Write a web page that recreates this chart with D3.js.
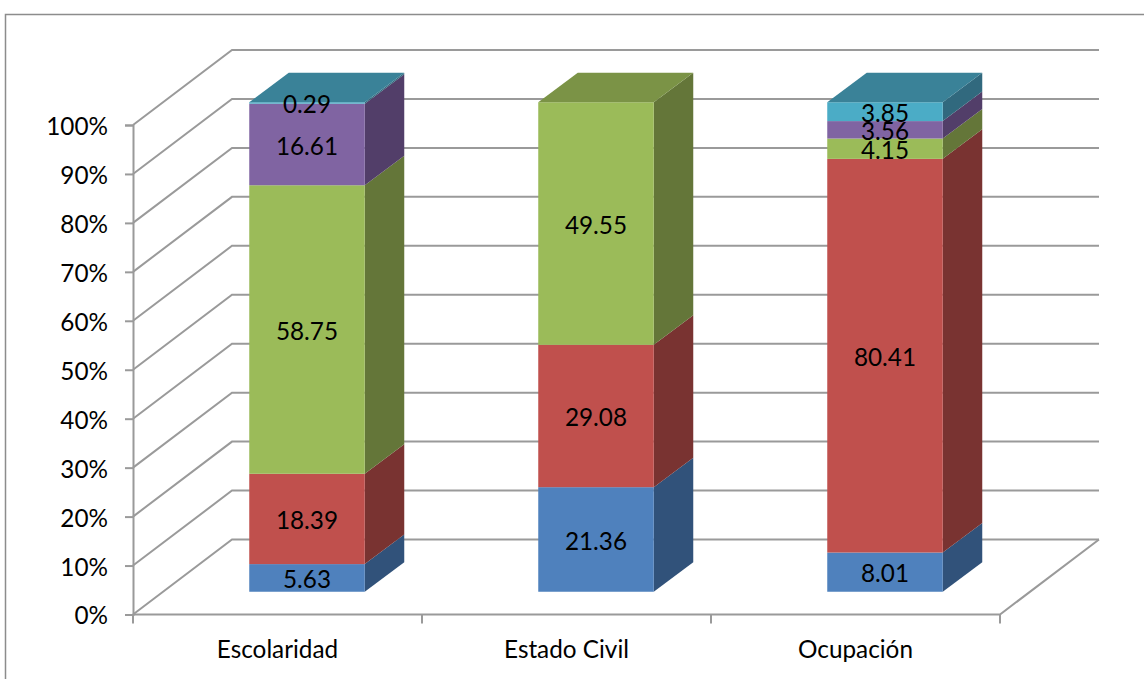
<!DOCTYPE html>
<html>
<head>
<meta charset="utf-8">
<script src="https://cdn.jsdelivr.net/npm/d3@7"></script>
<style>
html,body{margin:0;padding:0;background:#fff}
svg{display:block}
text{font-family:Lato,"Open Sans",sans-serif;fill:#000}
</style>
</head>
<body>
<svg id="chart" width="1144" height="679"></svg>
<script>
// Composition of the sample by profile variable (stacked 100%)
const categories = ["Escolaridad", "Estado Civil", "Ocupación"];
const seriesKeys = ["s1", "s2", "s3", "s4", "s5"];
const s1 = [5.63, 21.36, 8.01];
const s2 = [18.39, 29.08, 80.41];
const s3 = [58.75, 49.55, 4.15];
const s4 = [16.61, 0, 3.56];
const s5 = [0.29, 0, 3.85];
const seriesValues = [s1, s2, s3, s4, s5];
const tickValues = [0, 10, 20, 30, 40, 50, 60, 70, 80, 90, 100];

const frontColors = ["#4f81bd", "#c0504d", "#9bbb59", "#8064a2", "#4bacc6"];
const sideColors  = ["#31527a", "#793331", "#647639", "#523e69", "#31697e"];
const topColors   = ["#3f678f", "#994040", "#7b9346", "#665083", "#3a8298"];

const svg = d3.select("#chart");
const gridColor = "#9a9a9a";
const fontSize = 24.3;

// Frame around the chart area
svg.append("rect").attr("x", 5.5).attr("y", 14.5).attr("width", 1160).attr("height", 700)
  .attr("fill", "none").attr("stroke", "#8c8c8c").attr("stroke-width", 1.5);

// Oblique projection: wall depth and bar depth
const wallDx = 99, wallDy = -75;
const barDx = 39.5, barDy = -29.5;
const insetDx = (wallDx - barDx) / 2, insetDy = (wallDy - barDy) / 2;

const y = d3.scaleLinear().domain([0, 100]).range([614.5, 125]);
const x = d3.scaleBand().domain(categories).range([133, 1000]).paddingInner(0).paddingOuter(0);
const barWidth = 115.5;
const barLeft = c => x(c) + (x.bandwidth() - barWidth) / 2 + insetDx - 0.25;

// Walls: horizontal lines on the back, diagonals on the side
const grid = svg.append("g").attr("fill", "none").attr("stroke", gridColor).attr("stroke-width", 2);
grid.selectAll("path.g").data(tickValues).join("path").attr("class", "g")
  .attr("d", t => {
    const p = d3.path();
    p.moveTo(x.range()[0], y(t));
    p.lineTo(x.range()[0] + wallDx, y(t) + wallDy);
    p.lineTo(x.range()[1] + wallDx, y(t) + wallDy);
    return p.toString();
  });

// Floor edge to the right
grid.append("path").attr("d", () => {
  const p = d3.path();
  p.moveTo(x.range()[0], y(0));
  p.lineTo(x.range()[1], y(0));
  p.lineTo(x.range()[1] + wallDx, y(0) + wallDy);
  return p.toString();
});

// Axes
const yAxis = d3.axisLeft(y).tickValues(tickValues).tickFormat(d => d + "%").tickSize(8).tickPadding(17);
const gy = svg.append("g").attr("transform", `translate(${x.range()[0]},0)`).call(yAxis);
gy.selectAll("path.domain").attr("stroke", gridColor).attr("stroke-width", 2);
gy.selectAll("line").attr("stroke", gridColor).attr("stroke-width", 2);
gy.selectAll("text").attr("font-size", fontSize).attr("font-family", "Lato").attr("dy", "0.39em");

const xAxis = d3.axisBottom(x).tickSize(0).tickPadding(26);
const gx = svg.append("g").attr("transform", `translate(0,${y(0)})`).call(xAxis);
gx.select("path.domain").remove();
gx.selectAll("text").attr("font-size", fontSize).attr("font-family", "Lato");

// Category separators below the floor
svg.append("g").selectAll("line")
  .data([...categories.map(c => x(c)), x.range()[1]]).join("line")
  .attr("x1", d => d).attr("x2", d => d)
  .attr("y1", y(0)).attr("y2", y(0) + 9)
  .attr("stroke", gridColor).attr("stroke-width", 2);

// Stacked bars, normalised to 100%
const rows = categories.map((c, i) => {
  const r = { category: c };
  seriesKeys.forEach((k, j) => { r[k] = seriesValues[j][i]; });
  return r;
});
const stacked = d3.stack().keys(seriesKeys).offset(d3.stackOffsetExpand)(rows);

const bars = svg.append("g");
const labels = [];
stacked.forEach((layer, j) => {
  layer.forEach(seg => {
    const value = seg.data[layer.key];
    if (!value) return;
    const c = seg.data.category;
    const x0 = barLeft(c), x1 = x0 + barWidth;
    const yB = y(seg[0] * 100) + insetDy, yT = y(seg[1] * 100) + insetDy;
    // Right-hand side face
    bars.append("path")
      .attr("d", `M${x1},${yB}L${x1 + barDx},${yB + barDy}L${x1 + barDx},${yT + barDy}L${x1},${yT}Z`)
      .attr("fill", sideColors[j]);
    // Front face
    bars.append("rect")
      .attr("x", x0).attr("y", yT).attr("width", barWidth).attr("height", yB - yT)
      .attr("fill", frontColors[j]);
    labels.push({ text: value.toFixed(2), x: x0 + barWidth / 2, y: (yT + yB) / 2 });
  });
  // Top cap, for the bars whose uppermost segment is this layer
  layer.forEach(seg => {
    const value = seg.data[layer.key];
    const above = seriesKeys.slice(j + 1).some(k => seg.data[k] > 0);
    if (!value || above) return;
    const c = seg.data.category;
    const x0 = barLeft(c), x1 = x0 + barWidth, yT = y(seg[1] * 100) + insetDy;
    bars.append("path")
      .attr("d", `M${x0},${yT}L${x1},${yT}L${x1 + barDx},${yT + barDy}L${x0 + barDx},${yT + barDy}Z`)
      .attr("fill", topColors[j]);
  });
});

// Value labels on the front faces
svg.append("g").selectAll("text").data(labels).join("text")
  .attr("x", d => d.x).attr("y", d => d.y).attr("dy", "0.42em")
  .attr("text-anchor", "middle").attr("font-size", fontSize)
  .text(d => d.text);
</script>
</body>
</html>
